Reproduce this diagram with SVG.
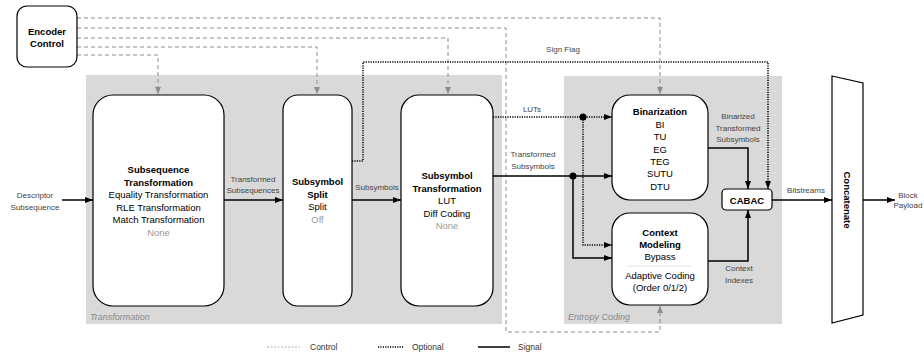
<svg xmlns="http://www.w3.org/2000/svg" width="924" height="356" viewBox="0 0 924 356">
  <style>
    text { font-family: "Liberation Sans", Arial, sans-serif; }
    .panel { fill: #d9d9d9; }
    .panel-label { font-size: 9px; font-style: italic; fill: #8a8a8a; }
    .box { fill: #fff; stroke: #000; stroke-width: 1.2; }
    .t { font-size: 9.5px; fill: #000; text-anchor: middle; }
    .b { font-weight: bold; }
    .off { fill: #9a9a9a; }
    .lbl { font-size: 8px; fill: #444; text-anchor: middle; }
    .sig { fill: none; stroke: #000; stroke-width: 1.5; }
    .opt { fill: none; stroke: #000; stroke-width: 1.5; stroke-dasharray: 1.2 1.2; }
    .ctl { fill: none; stroke: #8c8c8c; stroke-width: 1; stroke-dasharray: 4 3; }
    .leg { font-size: 8.5px; fill: #333; }
  </style>
  <defs>
    <marker id="ah" viewBox="0 0 8 6" refX="8" refY="3" markerWidth="8" markerHeight="6" orient="auto" markerUnits="userSpaceOnUse">
      <path d="M0,0 L8,3 L0,6 z" fill="#000"/>
    </marker>
    <marker id="ahc" viewBox="0 0 7 6" refX="7" refY="3" markerWidth="7" markerHeight="6" orient="auto" markerUnits="userSpaceOnUse">
      <path d="M0,0 L7,3 L0,6 z" fill="#8c8c8c"/>
    </marker>
  </defs>

  <!-- background panels -->
  <g id="panel-transformation">
    <rect class="panel" x="86" y="75" width="416" height="249"/>
    <text class="panel-label" x="90" y="320">Transformation</text>
  </g>
  <g id="panel-entropy">
    <rect class="panel" x="564" y="76" width="218" height="248"/>
    <text class="panel-label" x="568" y="320">Entropy Coding</text>
  </g>

  <!-- connectors -->
  <g id="connectors">
    <!-- control -->
    <path class="ctl" d="M77,18 H660 V94" marker-end="url(#ahc)"/>
    <path class="ctl" d="M77,28 H506 V332 H660 V306" marker-end="url(#ahc)"/>
    <path class="ctl" d="M77,38 H448 V94" marker-end="url(#ahc)"/>
    <path class="ctl" d="M77,47 H317 V94" marker-end="url(#ahc)"/>
    <path class="ctl" d="M77,55 H158 V94" marker-end="url(#ahc)"/>
    <!-- optional -->
    <path class="opt" d="M352,161 H363 V62 H768 V189" marker-end="url(#ah)"/>
    <path class="opt" d="M493,117 H612" marker-end="url(#ah)"/>
    <path class="opt" d="M583,117 V245 H612" marker-end="url(#ah)"/>
    <!-- signal -->
    <path class="sig" d="M62,200 H93" marker-end="url(#ah)"/>
    <path class="sig" d="M224,200 H283" marker-end="url(#ah)"/>
    <path class="sig" d="M352,200 H401" marker-end="url(#ah)"/>
    <path class="sig" d="M493,176 H612" marker-end="url(#ah)"/>
    <path class="sig" d="M573,176 V258 H612" marker-end="url(#ah)"/>
    <path class="sig" d="M708,148 H748 V189" marker-end="url(#ah)"/>
    <path class="sig" d="M708,261 H748 V210" marker-end="url(#ah)"/>
    <path class="sig" d="M772,200 H832" marker-end="url(#ah)"/>
    <path class="sig" d="M863,200 H895" marker-end="url(#ah)"/>
    <circle cx="583" cy="117" r="3.5" fill="#000"/>
    <circle cx="573" cy="176" r="3.5" fill="#000"/>
    <!-- connector labels -->
    <text class="lbl" x="35" y="198">Descriptor</text>
    <text class="lbl" x="35" y="210">Subsequence</text>
    <text class="lbl" x="253" y="182">Transformed</text>
    <text class="lbl" x="253" y="193">Subsequences</text>
    <text class="lbl" x="377" y="190">Subsymbols</text>
    <text class="lbl" x="563" y="52">Sign Flag</text>
    <text class="lbl" x="532" y="112">LUTs</text>
    <text class="lbl" x="533" y="157">Transformed</text>
    <text class="lbl" x="533" y="169">Subsymbols</text>
    <text class="lbl" x="738" y="119">Binarized</text>
    <text class="lbl" x="738" y="131">Transformed</text>
    <text class="lbl" x="738" y="142">Subsymbols</text>
    <text class="lbl" x="739" y="271">Context</text>
    <text class="lbl" x="739" y="283">Indexes</text>
    <text class="lbl" x="806" y="193">Bitstreams</text>
    <text class="lbl" x="908" y="198">Block</text>
    <text class="lbl" x="908" y="208">Payload</text>
  </g>

  <!-- nodes -->
  <g id="encoder-control">
    <rect class="box" x="17" y="6" width="60" height="61" rx="10"/>
    <text class="t b" x="47" y="35">Encoder</text>
    <text class="t b" x="47" y="47">Control</text>
  </g>

  <g id="subsequence-transformation">
    <rect class="box" x="93" y="95" width="131" height="211" rx="20"/>
    <text class="t b" x="158.5" y="173">Subsequence</text>
    <text class="t b" x="158.5" y="185.5">Transformation</text>
    <text class="t" x="158.5" y="198">Equality Transformation</text>
    <text class="t" x="158.5" y="210.5">RLE Transformation</text>
    <text class="t" x="158.5" y="223">Match Transformation</text>
    <text class="t off" x="158.5" y="235.5">None</text>
  </g>

  <g id="subsymbol-split">
    <rect class="box" x="283" y="95" width="69" height="211" rx="15"/>
    <text class="t b" x="317.5" y="185">Subsymbol</text>
    <text class="t b" x="317.5" y="197.5">Split</text>
    <text class="t" x="317.5" y="210">Split</text>
    <text class="t off" x="317.5" y="222.5">Off</text>
  </g>

  <g id="subsymbol-transformation">
    <rect class="box" x="401" y="95" width="92" height="211" rx="18"/>
    <text class="t b" x="447" y="179">Subsymbol</text>
    <text class="t b" x="447" y="191.5">Transformation</text>
    <text class="t" x="447" y="204">LUT</text>
    <text class="t" x="447" y="216.5">Diff Coding</text>
    <text class="t off" x="447" y="229">None</text>
  </g>

  <g id="binarization">
    <rect class="box" x="612" y="95" width="96" height="105" rx="18"/>
    <text class="t b" x="660" y="115">Binarization</text>
    <text class="t" x="660" y="128">BI</text>
    <text class="t" x="660" y="140">TU</text>
    <text class="t" x="660" y="152.5">EG</text>
    <text class="t" x="660" y="165">TEG</text>
    <text class="t" x="660" y="177">SUTU</text>
    <text class="t" x="660" y="189.5">DTU</text>
  </g>

  <g id="context-modeling">
    <rect class="box" x="612" y="213" width="96" height="92" rx="18"/>
    <text class="t b" x="660" y="236">Context</text>
    <text class="t b" x="660" y="248">Modeling</text>
    <text class="t" x="660" y="260">Bypass</text>
    <line x1="627" y1="266" x2="692" y2="266" stroke="#e6e6e6" stroke-width="1.2"/>
    <text class="t" x="660" y="278.5">Adaptive Coding</text>
    <text class="t" x="660" y="291">(Order 0/1/2)</text>
  </g>

  <g id="cabac">
    <rect class="box" x="722" y="189" width="50" height="21" rx="4"/>
    <text class="t b" x="747" y="203.5">CABAC</text>
  </g>

  <g id="concatenate">
    <polygon class="box" points="832,76 863,83 863,315 832,323"/>
    <text class="t b" transform="translate(844,200) rotate(90)" x="0" y="0">Concatenate</text>
  </g>

  <!-- legend -->
  <g id="legend">
    <line x1="267" y1="347" x2="300" y2="347" style="fill:none;stroke:#b0b0b0;stroke-width:1;stroke-dasharray:2 1.5"/>
    <text class="leg" x="310" y="350">Control</text>
    <line class="opt" x1="378" y1="347" x2="404" y2="347"/>
    <text class="leg" x="412" y="350">Optional</text>
    <line class="sig" x1="478" y1="347" x2="510" y2="347"/>
    <text class="leg" x="518" y="350">Signal</text>
  </g>
</svg>
